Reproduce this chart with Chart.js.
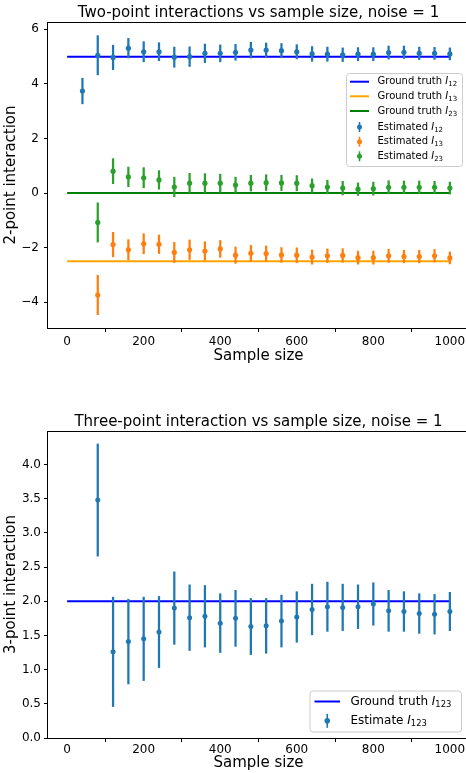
<!DOCTYPE html>
<html><head><meta charset="utf-8">
<script src="https://cdn.jsdelivr.net/npm/chart.js@4.4.1/dist/chart.umd.min.js"></script>
<style>
html,body{margin:0;padding:0;background:#fff;overflow:hidden;width:466px;height:773px;}
canvas{position:absolute;left:0;}
#c1{top:0px}
#c2{top:409px}
</style></head><body>
<canvas id="c1" width="480" height="365"></canvas>
<canvas id="c2" width="480" height="364"></canvas>
<script>
// ---------- data ----------
const sampleSizesI12 = [40,80,120,160,200,240,280,320,360,400,440,480,520,560,600,640,680,720,760,800,840,880,920,960,1000];
const sampleSizes = [80,120,160,200,240,280,320,360,400,440,480,520,560,600,640,680,720,760,800,840,880,920,960,1000];

const estI12 = [3.74,5.05,4.97,5.31,5.18,5.18,4.98,5.00,5.12,5.12,5.16,5.24,5.24,5.22,5.18,5.10,5.09,5.07,5.09,5.09,5.15,5.16,5.12,5.12,5.10];
const errI12 = [0.47,0.72,0.45,0.36,0.37,0.33,0.37,0.36,0.34,0.31,0.29,0.29,0.26,0.26,0.26,0.27,0.26,0.25,0.24,0.24,0.24,0.23,0.23,0.22,0.22];

const estI13 = [-3.74,-1.89,-2.08,-1.86,-1.88,-2.18,-2.08,-2.13,-2.05,-2.28,-2.21,-2.22,-2.27,-2.28,-2.35,-2.30,-2.29,-2.37,-2.37,-2.30,-2.33,-2.33,-2.30,-2.38];
const errI13 = [0.72,0.45,0.37,0.37,0.34,0.37,0.36,0.34,0.31,0.30,0.29,0.28,0.27,0.27,0.26,0.25,0.25,0.24,0.24,0.24,0.23,0.23,0.23,0.22];

const estI23 = [-1.08,0.80,0.59,0.56,0.48,0.22,0.36,0.36,0.36,0.29,0.36,0.38,0.37,0.36,0.27,0.22,0.18,0.14,0.16,0.21,0.21,0.21,0.21,0.18];
const errI23 = [0.72,0.46,0.36,0.37,0.34,0.36,0.36,0.35,0.33,0.29,0.29,0.29,0.28,0.28,0.25,0.25,0.25,0.23,0.24,0.24,0.23,0.23,0.22,0.22];

const estI123 = [3.48,1.26,1.41,1.45,1.55,1.90,1.76,1.78,1.68,1.75,1.63,1.64,1.71,1.77,1.88,1.92,1.91,1.92,1.96,1.86,1.85,1.82,1.81,1.85];
const errI123 = [0.82,0.80,0.62,0.61,0.52,0.53,0.48,0.45,0.43,0.41,0.41,0.40,0.38,0.37,0.37,0.36,0.34,0.32,0.31,0.30,0.29,0.29,0.29,0.28];

const truthI12 = 5, truthI13 = -2.5, truthI23 = 0, truthI123 = 2;
const truthXRange = [0, 1000];

const xTicks = [0,200,400,600,800,1000];
const yTicksTop = [-4,-2,0,2,4,6];
const yTicksBottom = [0,0.5,1,1.5,2,2.5,3,3.5,4];

// ---------- helpers ----------
const FONT = '"DejaVu Sans", "Liberation Sans", sans-serif';
const C = {
  tabBlue:'#1f77b4', tabOrange:'#ff7f0e', tabGreen:'#2ca02c',
  blue:'#0000ff', orange:'#ffa500', green:'#008000'
};
Chart.defaults.font.family = FONT;
Chart.defaults.color = '#000';

function pts(xs, ys){ return xs.map((x,i)=>({x:x, y:ys[i]})); }
function bars(xs, ys, es){ return xs.map((x,i)=>({x:x, y:[ys[i]-es[i], ys[i]+es[i]]})); }
function hline(v){ return truthXRange.map(x=>({x:x, y:v})); }

function lineDS(label, v, color){
  return {type:'line', label, data:hline(v), borderColor:color, borderWidth:2, pointRadius:0, fill:false, order:3};
}
function errDS(label, xs, ys, es, color){
  return {type:'bar', label, data:bars(xs,ys,es), backgroundColor:color, borderWidth:0, barThickness:1.6, grouped:false, order:2};
}
function ptDS(label, xs, ys, color, r){
  return {type:'scatter', label, data:pts(xs,ys), backgroundColor:color, borderColor:color, borderWidth:0, pointRadius:r, order:1};
}

function drawParts(ctx, x, y, parts, size){
  ctx.textBaseline='middle'; ctx.textAlign='left'; ctx.fillStyle='#000';
  for(const p of parts){
    const fs = p.sub ? size*0.7 : size;
    ctx.font = (p.it?'italic ':'') + fs + 'px ' + FONT;
    const dy = p.sub ? size*0.28 : 0;
    ctx.fillText(p.t, x, y+dy);
    x += ctx.measureText(p.t).width;
  }
}
function lbl(prefix, sub){ return [{t:prefix},{t:'I',it:true},{t:sub,sub:true}]; }

const framePlugin = {
  id:'frame',
  afterDatasetsDraw(chart){
    const a = chart.chartArea, ctx = chart.ctx;
    ctx.save();
    ctx.strokeStyle='#000'; ctx.lineWidth=1;
    ctx.strokeRect(Math.round(a.left)-0.5, Math.round(a.top)+0.5, Math.round(a.right-a.left), Math.round(a.bottom-a.top));
    ctx.restore();
  }
};

const legendPlugin = {
  id:'mplLegend',
  afterDraw(chart, args, o){
    if(!o || !o.entries) return;
    const a = chart.chartArea, ctx = chart.ctx;
    const bx = a.right - o.dx - o.w, by = o.anchor==='bottom' ? a.bottom - o.dy - o.h : a.top + o.dy;
    ctx.save();
    // box
    ctx.beginPath();
    if (ctx.roundRect) ctx.roundRect(bx+0.5, by+0.5, o.w, o.h, 3); else ctx.rect(bx+0.5, by+0.5, o.w, o.h);
    ctx.fillStyle='rgba(255,255,255,0.8)'; ctx.fill();
    ctx.strokeStyle='#cccccc'; ctx.lineWidth=1; ctx.stroke();
    o.entries.forEach((e,i)=>{
      const cy = by + o.rows[i];
      const x0 = bx + o.hx0, x1 = bx + o.hx1, xc = (x0+x1)/2;
      if(e.kind==='line'){
        ctx.strokeStyle=e.color; ctx.lineWidth=2;
        ctx.beginPath(); ctx.moveTo(x0, cy); ctx.lineTo(x1, cy); ctx.stroke();
      } else {
        ctx.strokeStyle=e.color; ctx.lineWidth=1.6;
        ctx.beginPath(); ctx.moveTo(xc, cy-o.eb); ctx.lineTo(xc, cy+o.eb); ctx.stroke();
        ctx.fillStyle=e.color; ctx.beginPath(); ctx.arc(xc, cy, o.r, 0, Math.PI*2); ctx.fill();
      }
      drawParts(ctx, bx + o.tx, cy, e.parts, o.fs);
    });
    ctx.restore();
  }
};

function makeChart(id, cfg){
  const canvas = document.getElementById(id);
  const H = canvas.height, W = canvas.width;
  return new Chart(canvas, {
    type:'scatter',
    data:{datasets:cfg.datasets},
    plugins:[framePlugin, legendPlugin],
    options:{
      responsive:false, animation:false, events:[],
      layout:{padding:{left:0, right:W-469, top:0, bottom:0}},
      plugins:{
        legend:{display:false}, tooltip:{enabled:false},
        title:{display:true, text:cfg.title, fullSize:false, color:'#000',
          font:{family:FONT, size:15, weight:'normal'}, padding:{top:4,bottom:0}},
        mplLegend:cfg.legend
      },
      scales:{
        x:{type:'linear', min:-50, max:1050, offset:false,
          afterBuildTicks:s=>{ s.ticks = xTicks.map(v=>({value:v})); },
          afterFit:s=>{ s.height = H - cfg.bottom; },
          grid:{display:true, drawOnChartArea:false, drawTicks:true, tickLength:4, color:'#000', lineWidth:1},
          border:{display:false},
          ticks:{font:{family:FONT,size:12}, color:'#000', padding:cfg.xpad, maxRotation:0, autoSkip:false,
            callback:v=>String(v)},
          title:{display:true, text:'Sample size', color:'#000', font:{family:FONT,size:15}, padding:{top:0,bottom:cfg.xtb}}
        },
        y:{type:'linear', min:cfg.ymin, max:cfg.ymax, beginAtZero:false,
          afterBuildTicks:s=>{ s.ticks = cfg.yTicks.map(v=>({value:v})); },
          afterFit:s=>{ s.width = 48; },
          grid:{display:true, drawOnChartArea:false, drawTicks:true, tickLength:4, color:'#000', lineWidth:1},
          border:{display:false},
          ticks:{font:{family:FONT,size:12}, color:'#000', padding:cfg.ypad, autoSkip:false, callback:cfg.fmt},
          title:{display:true, text:cfg.ytitle, color:'#000', font:{family:FONT,size:15}, padding:{top:2,bottom:0}}
        }
      }
    }
  });
}

// ---------- top chart ----------
makeChart('c1', {
  title:'Two-point interactions vs sample size, noise = 1',
  ytitle:'2-point interaction',
  ymin:-4.95, ymax:6.27, yTicks:yTicksTop, bottom:328, xpad:3, ypad:5, xtb:0,
  fmt:v=> v<0 ? '\u2212'+Math.abs(v) : String(v),
  datasets:[
    lineDS('Ground truth I12', truthI12, C.blue),
    lineDS('Ground truth I13', truthI13, C.orange),
    lineDS('Ground truth I23', truthI23, C.green),
    errDS('err I12', sampleSizesI12, estI12, errI12, C.tabBlue),
    errDS('err I13', sampleSizes, estI13, errI13, C.tabOrange),
    errDS('err I23', sampleSizes, estI23, errI23, C.tabGreen),
    ptDS('Estimated I12', sampleSizesI12, estI12, C.tabBlue, 2.6),
    ptDS('Estimated I13', sampleSizes, estI13, C.tabOrange, 2.6),
    ptDS('Estimated I23', sampleSizes, estI23, C.tabGreen, 2.6)
  ],
  legend:{anchor:'top', dx:7, dy:51, w:116, h:93, hx0:4, hx1:23, tx:31.5, fs:10, eb:5, r:2.5,
    rows:[8.7,23.3,38,54,68.7,83.3],
    entries:[
      {kind:'line', color:C.blue, parts:lbl('Ground truth ','12')},
      {kind:'line', color:C.orange, parts:lbl('Ground truth ','13')},
      {kind:'line', color:C.green, parts:lbl('Ground truth ','23')},
      {kind:'pt', color:C.tabBlue, parts:lbl('Estimated ','12')},
      {kind:'pt', color:C.tabOrange, parts:lbl('Estimated ','13')},
      {kind:'pt', color:C.tabGreen, parts:lbl('Estimated ','23')}
    ]}
});

// ---------- bottom chart ----------
makeChart('c2', {
  title:'Three-point interaction vs sample size, noise = 1',
  ytitle:'3-point interaction',
  ymin:0, ymax:4.49, yTicks:yTicksBottom, bottom:329, xpad:1, ypad:3, xtb:1,
  fmt:v=> v.toFixed(1),
  datasets:[
    lineDS('Ground truth I123', truthI123, C.blue),
    errDS('err I123', sampleSizes, estI123, errI123, C.tabBlue),
    ptDS('Estimate I123', sampleSizes, estI123, C.tabBlue, 2.5)
  ],
  legend:{anchor:'bottom', dx:8, dy:6.5, w:151.5, h:41, hx0:5, hx1:30.5, tx:41, fs:12, eb:7, r:2.8,
    rows:[11,30.3],
    entries:[
      {kind:'line', color:C.blue, parts:lbl('Ground truth ','123')},
      {kind:'pt', color:C.tabBlue, parts:lbl('Estimate ','123')}
    ]}
});
</script>
</body></html>
